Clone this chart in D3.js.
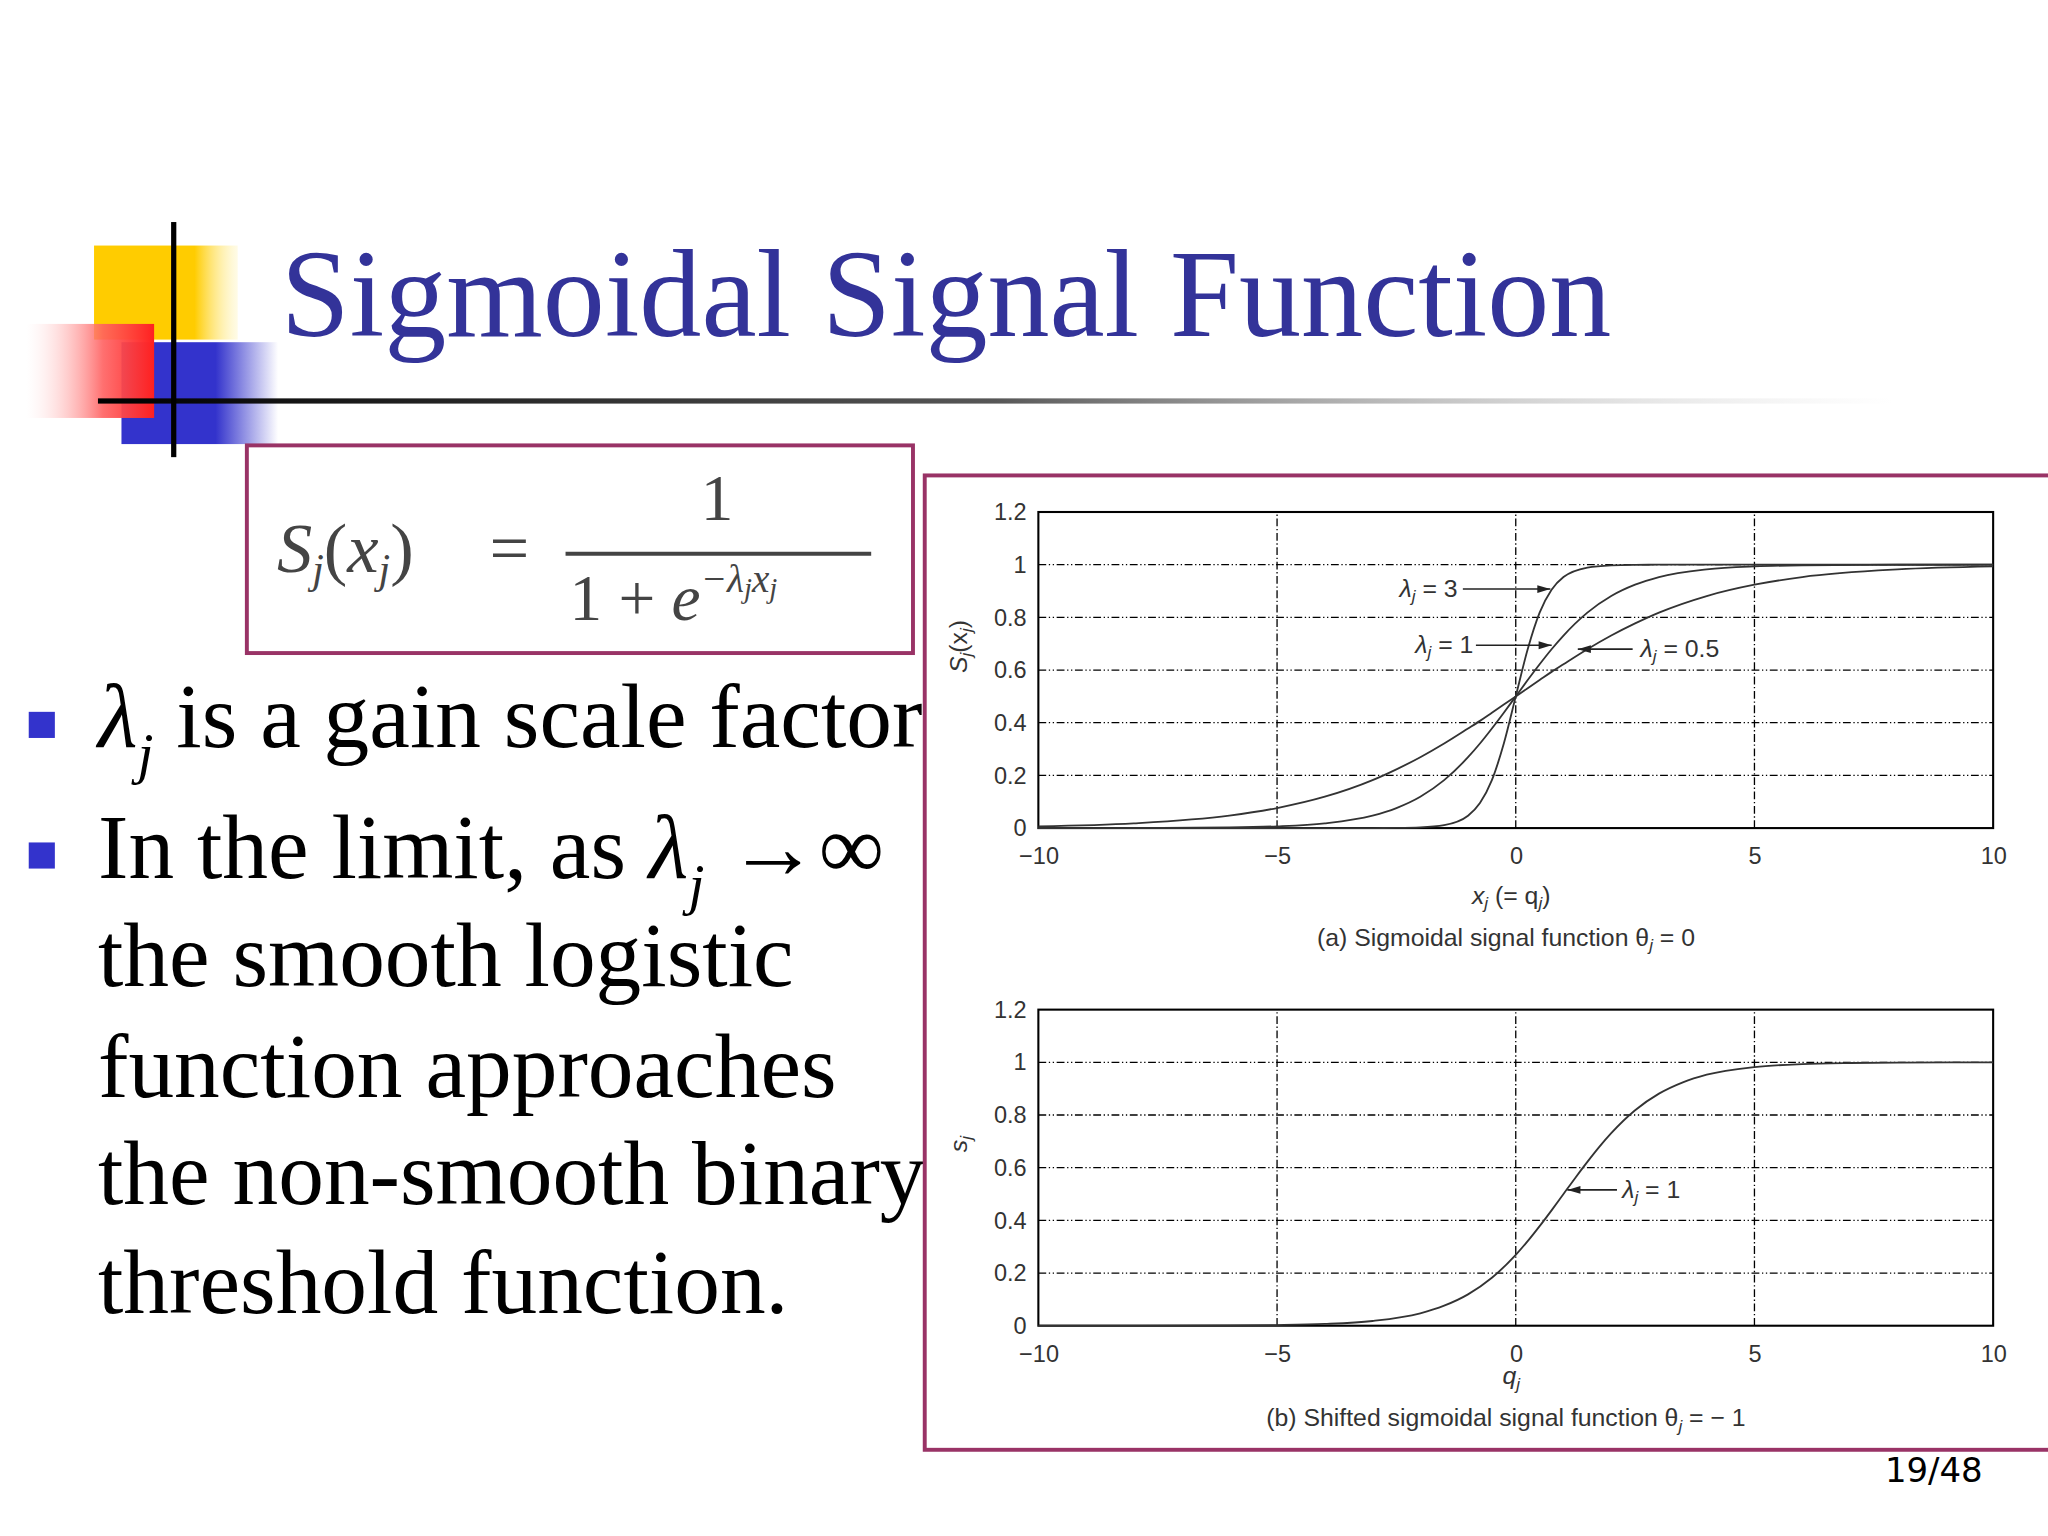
<!DOCTYPE html>
<html><head><meta charset="utf-8">
<script src="https://cdn.jsdelivr.net/npm/d3@7"></script>
<style>body{margin:0;background:#fff}svg{display:block}</style>
</head><body>
<script>
// ---- data ----
const xTicks = [-10, -5, 0, 5, 10];
const xTickLabels = ["\u221210", "\u22125", "0", "5", "10"];
const yTicks = [0, 0.2, 0.4, 0.6, 0.8, 1, 1.2];
const yTickLabels = ["0", "0.2", "0.4", "0.6", "0.8", "1", "1.2"];
const xs = [-10,-8,-6,-5,-4,-3,-2.5,-2,-1.5,-1,-0.75,-0.5,-0.25,0,0.25,0.5,0.75,1,1.5,2,2.5,3,4,5,6,8,10];
const lambda3 = [0,0,0,0,0,0.0001,0.0006,0.0025,0.011,0.047,0.095,0.182,0.321,0.5,0.679,0.818,0.905,0.953,0.989,0.9975,0.9994,0.9999,1,1,1,1,1];
const lambda1 = [0.00005,0.0003,0.0025,0.0067,0.018,0.047,0.076,0.119,0.182,0.269,0.321,0.378,0.438,0.5,0.562,0.622,0.679,0.731,0.818,0.881,0.924,0.953,0.982,0.9933,0.9975,0.9997,0.99995];
const lambda05 = [0.0067,0.018,0.047,0.076,0.119,0.182,0.223,0.269,0.321,0.378,0.407,0.438,0.469,0.5,0.531,0.562,0.593,0.622,0.679,0.731,0.777,0.818,0.881,0.924,0.953,0.982,0.9933];
const xsB = [-10,-6,-5,-4,-3,-2,-1.5,-1,-0.5,0,0.25,0.5,0.75,1,1.25,1.5,1.75,2,2.5,3,3.5,4,5,6,7,8,10];
const shifted = [0.00002,0.0009,0.0025,0.0067,0.018,0.047,0.076,0.119,0.182,0.269,0.321,0.378,0.438,0.5,0.562,0.622,0.679,0.731,0.818,0.881,0.924,0.953,0.982,0.9933,0.9975,0.9991,0.9999];
const plainLines = ["the smooth logistic","function approaches","the non-smooth binary","threshold function."];

// ---- drawing (coords in 1568x1176 space, scaled to 2048x1536) ----
const svg = d3.select("body").append("svg").attr("width",2048).attr("height",1536).attr("viewBox","0 0 1568 1176");
const defs = svg.append("defs");
function lg(id, stops){const g=defs.append("linearGradient").attr("id",id).attr("x1",0).attr("y1",0).attr("x2",1).attr("y2",0);stops.forEach(s=>g.append("stop").attr("offset",s[0]).attr("stop-color",s[1]).attr("stop-opacity",s[2]));}
lg("gy",[[0,"#ffcc00",1],[0.7,"#ffcc00",1],[1,"#fff3b0",0.3]]);
lg("gr",[[0,"#ffffff",0.2],[0.6,"#ff6060",0.9],[1,"#ff2020",1]]);
lg("gb",[[0,"#3333cc",1],[0.6,"#3333cc",1],[1,"#3333cc",0]]);
lg("gl",[[0,"#000",1],[0.5,"#444",0.9],[1,"#bbb",0]]);
svg.append("rect").attr("x",72).attr("y",188).attr("width",110).attr("height",72).attr("fill","url(#gy)");
svg.append("rect").attr("x",93).attr("y",262).attr("width",120).attr("height",78).attr("fill","url(#gb)");
svg.append("rect").attr("x",20).attr("y",248).attr("width",98).attr("height",72).attr("fill","url(#gr)");
svg.append("rect").attr("x",75).attr("y",305).attr("width",1375).attr("height",4).attr("fill","url(#gl)");
svg.append("rect").attr("x",131).attr("y",170).attr("width",4).attr("height",180).attr("fill","#000");
svg.append("text").attr("x",215).attr("y",257).attr("font-family","Liberation Serif").attr("font-size",95).attr("fill","#333399").text("Sigmoidal Signal Function");

// formula box
svg.append("rect").attr("x",189).attr("y",341).attr("width",510).attr("height",159).attr("fill","none").attr("stroke","#993366").attr("stroke-width",3);
const ff = svg.append("g").attr("font-family","Liberation Serif").attr("fill","#444");
const t1 = ff.append("text").attr("x",212).attr("y",438).attr("font-size",54);
t1.append("tspan").attr("font-style","italic").text("S");
t1.append("tspan").attr("font-style","italic").attr("font-size",32).attr("dy",8).text("j");
t1.append("tspan").attr("dy",-8).text("(");
t1.append("tspan").attr("font-style","italic").text("x");
t1.append("tspan").attr("font-style","italic").attr("font-size",32).attr("dy",8).text("j");
t1.append("tspan").attr("dy",-8).text(")");
ff.append("text").attr("x",390).attr("y",438).attr("font-size",54).attr("text-anchor","middle").text("=");
ff.append("text").attr("x",549).attr("y",398).attr("font-size",50).attr("text-anchor","middle").text("1");
ff.append("line").attr("x1",433).attr("x2",667).attr("y1",424).attr("y2",424).attr("stroke","#444").attr("stroke-width",3);
const t2 = ff.append("text").attr("x",436).attr("y",475).attr("font-size",50);
t2.append("tspan").text("1 + ");
t2.append("tspan").attr("font-style","italic").text("e");
t2.append("tspan").attr("font-style","italic").attr("font-size",30).attr("dy",-22).text("\u2212\u03bb");
t2.append("tspan").attr("font-style","italic").attr("font-size",22).attr("dy",5).text("j");
t2.append("tspan").attr("font-style","italic").attr("font-size",30).attr("dy",-5).text("x");
t2.append("tspan").attr("font-style","italic").attr("font-size",22).attr("dy",5).text("j");

// bullets
const bf = svg.append("g").attr("font-family","Liberation Serif").attr("font-size",70).attr("fill","#000");
function bullet(y, pre, post){
  bf.append("rect").attr("x",22).attr("y",y-27).attr("width",20).attr("height",20).attr("fill","#3333cc");
  const t = bf.append("text").attr("x",75).attr("y",y);
  if(pre) t.append("tspan").text(pre);
  t.append("tspan").attr("font-style","italic").text("\u03bb");
  t.append("tspan").attr("font-style","italic").attr("font-size",44).attr("dy",20).text("j");
  t.append("tspan").attr("dy",-20).text(post);
}
bullet(572, "", " is a gain scale factor");
bullet(672, "In the limit, as ", " \u2192\u221e");
[755,840,922,1005].forEach((y,k)=>bf.append("text").attr("x",75).attr("y",y).text(plainLines[k]));

// chart frame
svg.append("rect").attr("x",708).attr("y",364).attr("width",880).attr("height",746).attr("fill","none").attr("stroke","#993366").attr("stroke-width",3);
svg.append("text").attr("x",1518).attr("y",1135).attr("text-anchor","end").attr("font-family","DejaVu Sans").attr("font-size",26).attr("fill","#000").text("19/48");

const tf = "Liberation Sans";
function panel(top, series, ylab, xlab, cap, notes, xlY, capY){
  const x = d3.scaleLinear().domain([-10,10]).range([795,1526]);
  const y = d3.scaleLinear().domain([0,1.2]).range([top+242, top]);
  const g = svg.append("g");
  [-5,0,5].forEach(v=>g.append("line").attr("x1",x(v)).attr("x2",x(v)).attr("y1",y(0)).attr("y2",y(1.2)).attr("stroke","#000").attr("stroke-width",1).attr("stroke-dasharray","6,2,1,2"));
  [0.2,0.4,0.6,0.8,1].forEach(v=>g.append("line").attr("x1",x(-10)).attr("x2",x(10)).attr("y1",y(v)).attr("y2",y(v)).attr("stroke","#000").attr("stroke-width",1).attr("stroke-dasharray","6,2,1,2,1,2"));
  g.append("rect").attr("x",x(-10)).attr("y",y(1.2)).attr("width",x(10)-x(-10)).attr("height",y(0)-y(1.2)).attr("fill","none").attr("stroke","#000").attr("stroke-width",1.6);
  const ax = g.append("g").attr("transform",`translate(0,${y(0)+12})`).call(d3.axisBottom(x).tickValues(xTicks).tickSize(0).tickFormat((d,i)=>xTickLabels[i]));
  ax.select(".domain").remove();
  ax.selectAll("text").attr("font-family",tf).attr("font-size",18).attr("fill","#333");
  const ay = g.append("g").attr("transform",`translate(${x(-10)-6},0)`).call(d3.axisLeft(y).tickValues(yTicks).tickSize(0).tickFormat((d,i)=>yTickLabels[i]));
  ay.select(".domain").remove();
  ay.selectAll("text").attr("font-family",tf).attr("font-size",18).attr("fill","#333");
  const line = d3.line().x(d=>x(d[0])).y(d=>y(d[1])).curve(d3.curveMonotoneX);
  series.forEach(s=>g.append("path").attr("d",line(s.xs.map((v,i)=>[v,s.ys[i]]))).attr("fill","none").attr("stroke","#333").attr("stroke-width",1.4));
  const lt = (x0,y0,rot,parts,anchor)=>{const t=g.append("text").attr("font-family",tf).attr("font-size",19).attr("fill","#333").attr("text-anchor",anchor||"middle").attr("transform",`translate(${x0},${y0}) rotate(${rot})`);parts.forEach(p=>{const s=t.append("tspan").text(p[0]);if(p[1]==="i")s.attr("font-style","italic");if(p[1]==="sub")s.attr("font-style","italic").attr("font-size",13).attr("dy",4);if(p[1]==="up")s.attr("dy",-4);});};
  lt(740, top+103, -90, ylab);
  lt(1157, xlY, 0, xlab);
  lt(1153, capY, 0, cap);
  notes.forEach(n=>{
    g.append("line").attr("x1",n.ax1).attr("x2",n.ax2).attr("y1",n.ay).attr("y2",n.ay).attr("stroke","#222").attr("stroke-width",1.2);
    const dir = Math.sign(n.ax2-n.ax1);
    g.append("path").attr("d",`M${n.ax2},${n.ay} l${-dir*10},-3 l0,6 z`).attr("fill","#222");
    lt(n.tx, n.ay+6, 0, [["\u03bb","i"],["j","sub"],[" = "+n.v,"up"]], n.anchor);
  });
}
panel(392, [{xs:xs,ys:lambda3},{xs:xs,ys:lambda1},{xs:xs,ys:lambda05}],
  [["S","i"],["j","sub"],["(x","up"],["j","sub"],[")","up"]],
  [["x","i"],["j","sub"],[" (= q","up"],["j","sub"],[")","up"]],
  [["(a) Sigmoidal signal function \u03b8"],["j","sub"],[" = 0","up"]],
  [{ax1:1120,ax2:1187,ay:451,tx:1116,v:"3",anchor:"end"},
   {ax1:1130,ax2:1188,ay:494,tx:1128,v:"1",anchor:"end"},
   {ax1:1250,ax2:1208,ay:497,tx:1256,v:"0.5",anchor:"start"}], 692, 724);
panel(773, [{xs:xsB,ys:shifted}],
  [["s","i"],["j","sub"]],
  [["q","i"],["j","sub"]],
  [["(b) Shifted sigmoidal signal function \u03b8"],["j","sub"],[" = \u2212 1","up"]],
  [{ax1:1238,ax2:1200,ay:911,tx:1242,v:"1",anchor:"start"}], 1060, 1092);
</script>
</body></html>
